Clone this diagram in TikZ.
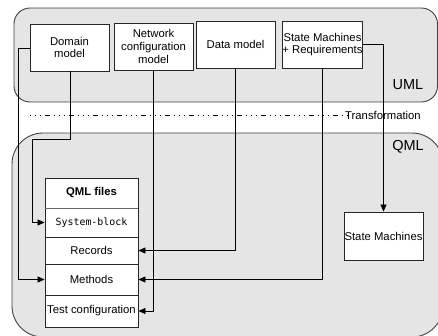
\documentclass[tikz,border=0pt]{standalone}
\usepackage{fontspec}
\setmainfont{Liberation Sans}
\setmonofont{DejaVu Sans Mono}
\usetikzlibrary{arrows.meta}
\tikzset{
  region/.style={draw=black!75, fill=black!10, line width=0.9pt},
  modelbox/.style={draw=black!85, fill=white, line width=0.9pt, inner sep=0pt,
    align=center, font=\fontsize{11.3}{12.8}\selectfont},
  rowbox/.style={draw=black!85, fill=white, line width=0.9pt, inner sep=0pt,
    minimum width=93pt, font=\fontsize{11.3}{12.8}\selectfont},
  flow/.style={draw=black, line width=0.8pt, -{Triangle[length=7pt,width=6pt]}},
  regionlabel/.style={font=\fontsize{14.5}{16}\selectfont, inner sep=0pt}
}
\begin{document}
\begin{tikzpicture}[x=1pt,y=-1pt]
\useasboundingbox (0,0) rectangle (438,335);
\clip (0,0) rectangle (438,335);

% containers
\draw[region, rounded corners=16pt] (14,8) rectangle (437.5,102);
\draw[region, rounded corners=31pt] (12,133) rectangle (443,337);
\node[regionlabel] (uml) at (408,85) {UML};
\node[regionlabel] (qml) at (408,147) {QML};

% transformation boundary
\draw[black, line width=0.7pt,
  dash pattern=on 1pt off 4pt on 1pt off 4pt on 1pt off 4pt on 5pt off 4pt]
  (30,115) -- (349,115);
\node[font=\fontsize{11.3}{12.8}\selectfont, inner sep=0pt, anchor=west] (trans) at (345,115) {Transformation};

% UML models
\node[modelbox, minimum width=79pt, minimum height=47pt] (domain) at (69.5,47.5) {Domain\\model};
\node[modelbox, minimum width=79pt, minimum height=47pt] (network) at (153.5,46.5) {Network\\configuration\\model};
\node[modelbox, minimum width=79pt, minimum height=47pt] (data) at (235.5,44.5) {Data model};
\node[modelbox, minimum width=79pt, minimum height=47pt] (smreq) at (322.5,44.5) {State Machines\\+ Requirements};

% QML files stack
\node[rowbox, minimum height=30pt, font=\bfseries\fontsize{11.3}{12.8}\selectfont] (hdr) at (91.5,193) {QML files};
\node[rowbox, minimum height=29pt, font=\ttfamily\fontsize{9.9}{11}\selectfont] (sysblock) at (91.5,222.5) {System-block};
\node[rowbox, minimum height=27pt] (records) at (91.5,250.5) {Records};
\node[rowbox, minimum height=31pt] (methods) at (91.5,279.5) {Methods};
\node[rowbox, minimum height=32pt] (testcfg) at (91.5,311) {Test configuration};
\draw[black!60, line width=1.2pt] (hdr.south west) -- (hdr.south east);

% state machines target
\node[modelbox, minimum width=79pt, minimum height=48pt] (sm) at (383.5,236) {State Machines};

% transformation flows
\coordinate (d1) at (18,48);
\coordinate (d2) at (70,139);
\coordinate (d3) at (32,139);
\draw[flow] (domain.west |- d1) -- (d1) |- (methods.west);
\draw[flow] (domain.south -| d2) -- (d2) -- (d3) |- (sysblock.west);
\draw[flow] (network.south) |- (testcfg.east);
\draw[flow] (data.south) |- (records.east);
\draw[flow] (smreq.south) |- (methods.east);
\draw[flow] (smreq.east) -| (sm.north);
\end{tikzpicture}
\end{document}
